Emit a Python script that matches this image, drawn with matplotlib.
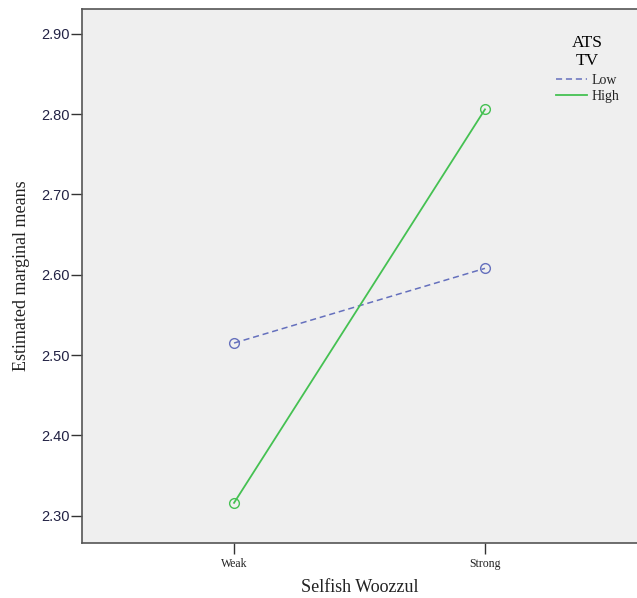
import matplotlib.pyplot as plt
from matplotlib.lines import Line2D

# profile plot data
levels = ["Weak", "Strong"]
low_means = [2.515, 2.608]
high_means = [2.316, 2.806]
yticks = [2.30, 2.40, 2.50, 2.60, 2.70, 2.80, 2.90]

serif = ["Liberation Serif", "DejaVu Serif"]
sans = ["Liberation Sans", "DejaVu Sans"]
low_col = "#6570bd"
high_col = "#45c152"
low_ls = (0, (4, 2.5))

fig = plt.figure(figsize=(6.37, 5.98), dpi=100)
ax = fig.add_axes([82 / 637, 55 / 598, 555 / 637, 534 / 598])
ax.set_facecolor("#efefef")

x = list(range(len(levels)))
ax.plot(x, low_means, color=low_col, ls=low_ls, lw=1.1,
        marker="o", mfc="none", ms=7, mew=1.0)
ax.plot(x, high_means, color=high_col, ls="-", lw=1.3,
        marker="o", mfc="none", ms=7, mew=1.0)

ax.set_xlim(-0.606, 1.606)
ax.set_ylim(2.266, 2.931)
ax.set_xticks(x)
ax.set_xticklabels(levels, family=serif, fontsize=8.5, color="#222222")
ax.set_yticks(yticks)
ax.set_yticklabels([f"{v:.2f}" for v in yticks], family=sans, fontsize=10.5,
                   color="#222244")
ax.tick_params(axis="y", length=8, width=1, color="#333333", pad=1)
ax.tick_params(axis="x", length=8, width=1, color="#333333", pad=3)

for s in ax.spines.values():
    s.set_color("#555555")
    s.set_linewidth(1.2)
ax.spines["right"].set_visible(False)

ax.set_ylabel("Estimated marginal means", family=serif, fontsize=13,
              color="#222222", labelpad=8)
ax.set_xlabel("Selfish Woozzul", family=serif, fontsize=13,
              color="#222222", labelpad=6)

handles = [Line2D([], [], color=low_col, ls=low_ls, lw=1.1),
           Line2D([], [], color=high_col, ls="-", lw=1.3)]
leg = ax.legend(handles, ["Low", "High"], title="ATS\nTV", loc="upper right",
                frameon=False, bbox_to_anchor=(0.99, 0.975), handlelength=2.2,
                handletextpad=0.3, labelspacing=0.2,
                prop={"family": serif, "size": 10},
                title_fontproperties={"family": serif, "size": 12.5})
leg.get_title().set_multialignment("center")
leg.get_title().set_linespacing(1.15)
leg._legend_box.sep = 4
for t in leg.get_texts():
    t.set_color("#222222")

fig.savefig("out.png", dpi=100)
